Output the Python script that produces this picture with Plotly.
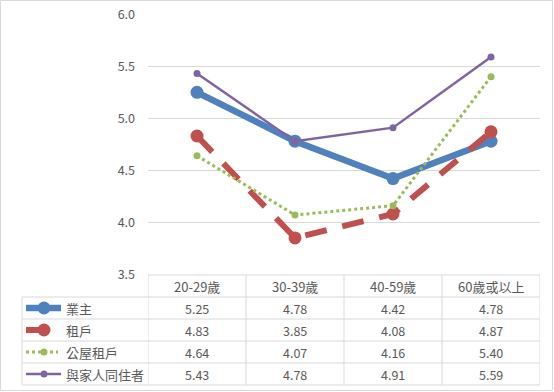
import plotly.graph_objects as go

categories = ["20-29歲", "30-39歲", "40-59歲", "60歲或以上"]
series_names = ["業主", "租戶", "公屋租戶", "與家人同住者"]
owner = [5.25, 4.78, 4.42, 4.78]
renter = [4.83, 3.85, 4.08, 4.87]
public_renter = [4.64, 4.07, 4.16, 5.40]
with_family = [5.43, 4.78, 4.91, 5.59]
y_ticks = [3.5, 4.0, 4.5, 5.0, 5.5, 6.0]

W, H = 554, 392
FONT = "Noto Sans CJK TC, Noto Sans, sans-serif"
TXT = "#595959"
GRID = "#D9D9D9"

def px(x):
    return x / W

def py(y):
    return 1 - y / H

styles = [
    dict(color="#4F81BD", width=6.5, dash="solid", msize=13),
    dict(color="#C0504D", width=6, dash="22px,16px", msize=13),
    dict(color="#9BBB59", width=3, dash="dot", msize=7),
    dict(color="#8064A2", width=2.5, dash="solid", msize=7),
]
data = [owner, renter, public_renter, with_family]

fig = go.Figure()
for name, vals, st in zip(series_names, data, styles):
    fig.add_trace(go.Scatter(
        x=categories, y=vals, name=name, mode="lines+markers",
        line=dict(color=st["color"], width=st["width"], dash=st["dash"]),
        marker=dict(color=st["color"], size=st["msize"], line=dict(width=0)),
        showlegend=False, cliponaxis=False,
    ))

shapes = []
annotations = []
line_style = dict(color=GRID, width=1)

# horizontal table lines
shapes.append(dict(type="line", xref="paper", yref="paper", x0=px(148), x1=px(540),
                   y0=py(275), y1=py(275), line=line_style))
row_tops = [297, 319, 341, 363, 385]
for yy in row_tops:
    shapes.append(dict(type="line", xref="paper", yref="paper", x0=px(22), x1=px(540),
                       y0=py(yy), y1=py(yy), line=line_style))
# vertical table lines
shapes.append(dict(type="line", xref="paper", yref="paper", x0=px(22), x1=px(22),
                   y0=py(297), y1=py(385), line=line_style))
for i in range(len(categories) + 1):
    shapes.append(dict(type="line", xref="x", yref="paper", x0=i - 0.5, x1=i - 0.5,
                       y0=py(275), y1=py(385), line=line_style))
# outer border
shapes.append(dict(type="rect", xref="paper", yref="paper", x0=px(0.5), x1=px(552.5),
                   y0=py(0.5), y1=py(390.5), line=dict(color=GRID, width=1)))

txt_font = dict(family=FONT, size=12.5, color=TXT)
name_font = dict(family=FONT, size=13, color=TXT)

# header row (category labels)
for c in categories:
    annotations.append(dict(x=c, xref="x", y=py(286.5), yref="paper", text=c,
                            showarrow=False, xanchor="center", yanchor="middle",
                            font=name_font))

# table values and legend
key_end = [61, 49, 58, 61]
for r, (name, vals, st) in enumerate(zip(series_names, data, styles)):
    yc = (row_tops[r] + row_tops[r + 1]) / 2
    for i, v in enumerate(vals):
        annotations.append(dict(x=categories[i], xref="x", y=py(yc), yref="paper",
                                text=f"{v:.2f}", showarrow=False,
                                xanchor="center", yanchor="middle", font=txt_font))
    annotations.append(dict(x=px(64), xref="paper", y=py(yc), yref="paper",
                            text=name, showarrow=False, xanchor="left", yanchor="middle",
                            font=name_font))
    shapes.append(dict(type="line", xref="paper", yref="paper", x0=px(26), x1=px(key_end[r]),
                       y0=py(yc), y1=py(yc),
                       line=dict(color=st["color"], width=st["width"],
                                 dash="solid" if r == 1 else st["dash"])))
    rad = st["msize"] / 2
    shapes.append(dict(type="circle", xref="paper", yref="paper",
                       x0=px(44 - rad), x1=px(44 + rad), y0=py(yc - rad), y1=py(yc + rad),
                       fillcolor=st["color"], line=dict(width=0)))

fig.update_layout(
    width=W, height=H,
    margin=dict(l=0, r=0, t=0, b=0, pad=0),
    paper_bgcolor="white", plot_bgcolor="white",
    font=dict(family=FONT, size=12, color=TXT),
    xaxis=dict(type="category", range=[-0.5, 3.5], domain=[px(148), px(540)],
               showgrid=False, showline=False, ticks="", zeroline=False,
               showticklabels=False, automargin=False),
    yaxis=dict(range=[3.5, 6.0], domain=[py(274.3), py(14.3)], tickvals=y_ticks,
               tickformat=".1f", showgrid=True, gridcolor=GRID, gridwidth=1,
               zeroline=False, showline=False, ticks="", ticklabelstandoff=12,
               automargin=False,
               tickfont=dict(family=FONT, size=12.5, color=TXT)),
    shapes=shapes, annotations=annotations,
)

fig.write_html("out.html", config={"displayModeBar": False},
               post_script="document.body.style.margin='0';document.body.style.overflow='hidden';")
